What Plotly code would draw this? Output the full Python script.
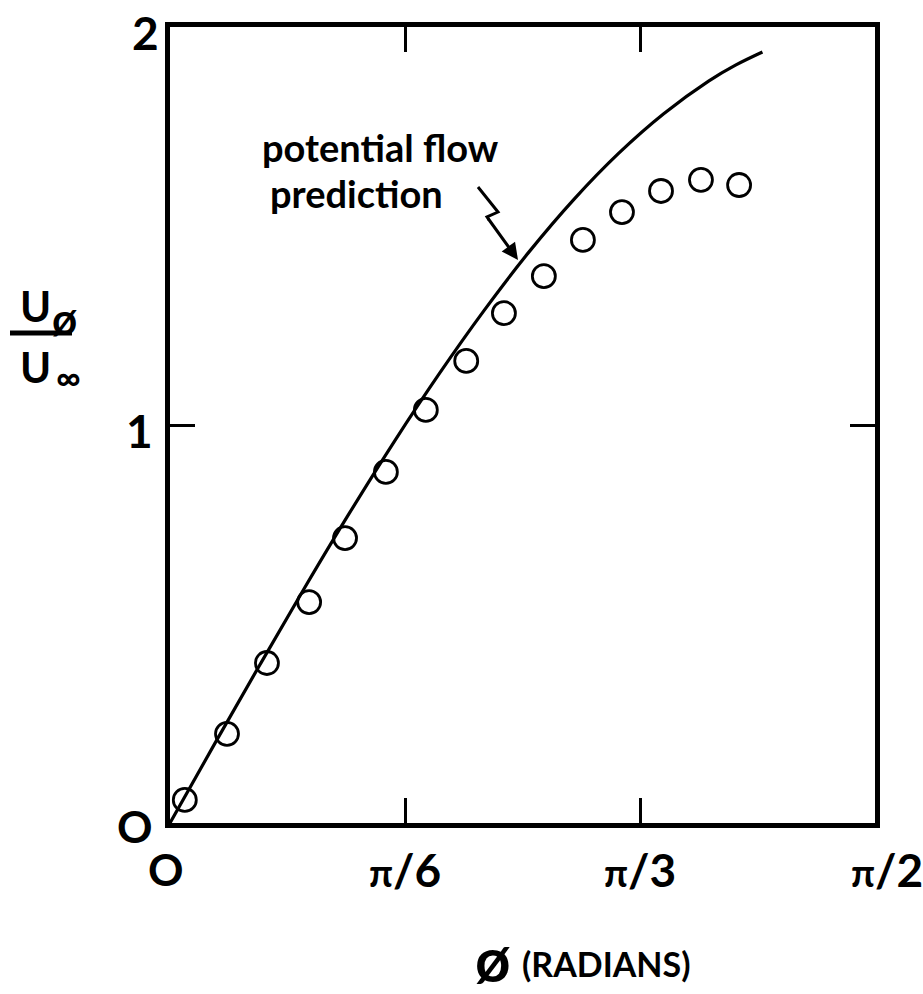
import math
import plotly.graph_objects as go

# ---- data ----
phi_measured = [0.033, 0.127, 0.216, 0.310, 0.390, 0.481, 0.570, 0.660, 0.744,
                0.833, 0.920, 1.007, 1.094, 1.183, 1.268]
u_measured = [0.058, 0.224, 0.402, 0.555, 0.716, 0.882, 1.038, 1.161, 1.281,
              1.374, 1.465, 1.535, 1.588, 1.616, 1.603]

phi_potential = [0.0, 0.1, 0.2, 0.3, 0.4, 0.5, 0.6, 0.7, 0.8, 0.9, 1.0, 1.1, 1.2, 1.26, 1.32]
u_potential = [0.0, 0.200, 0.397, 0.591, 0.779, 0.959, 1.129, 1.288, 1.435, 1.567,
               1.683, 1.782, 1.864, 1.904, 1.937]

x_tickvals = [0, math.pi / 6, math.pi / 3, math.pi / 2]
x_ticklabels = ["O", "π/6", "π/3", "π/2"]
y_tickvals = [0, 1, 2]
y_ticklabels = ["O", "1", "2"]

# ---- layout geometry (pixels) ----
W, H = 923, 994
L, R, T, B = 170, 875, 27, 823
XMAX, YMAX = math.pi / 2, 2.0


def px2p(px):
    return (px - L) / (R - L)


def py2p(py):
    return (B - py) / (B - T)


FONT = "Lato"
BLACK = "#000000"


def f(size):
    return dict(family=FONT, size=size, color=BLACK, weight="bold")


fig = go.Figure()
fig.add_trace(go.Scatter(x=phi_potential, y=u_potential, mode="lines",
                         line=dict(color=BLACK, width=3.2, shape="spline"),
                         hoverinfo="skip", showlegend=False))
fig.add_trace(go.Scatter(x=phi_measured, y=u_measured, mode="markers",
                         marker=dict(symbol="circle-open", size=23, color=BLACK,
                                     line=dict(color=BLACK, width=2.8)),
                         showlegend=False))

ann = []
# x tick labels
x_label_px = [166, 405, 640, 887]
for lab, xp in zip(x_ticklabels, x_label_px):
    if lab == "O":
        ann.append(dict(x=px2p(xp), y=py2p(869), text="O", font=f(44)))
    else:
        num, den = lab.split("/")
        ann.append(dict(x=px2p(xp), y=py2p(869),
                        text=f"<span style='font-size:38px'>{num}</span>"
                             f"<span style='font-size:46px'>/{den}</span>",
                        font=f(46)))
# y tick labels
y_label_px = [(135, 826), (139, 430), (145, 32)]
for lab, (xp, yp) in zip(y_ticklabels, y_label_px):
    ann.append(dict(x=px2p(xp), y=py2p(yp), text=lab, font=f(44 if lab == "O" else 46)))

# y axis title  U_ø / U_∞
ann += [
    dict(x=px2p(35), y=py2p(306), text="U", font=f(42)),
    dict(x=px2p(64), y=py2p(318), text="ø", font=f(44)),
    dict(x=px2p(35), y=py2p(367), text="U", font=f(42)),
    dict(x=px2p(68), y=py2p(377), text="∞", font=f(34)),
]
# x axis title
ann += [
    dict(x=px2p(493), y=py2p(958), text="ø", font=f(62)),
    dict(x=px2p(606), y=py2p(963), text="(RADIANS)", font=f(34)),
]
# annotation text
ann += [
    dict(x=px2p(260), y=py2p(147), text="potential flow", xanchor="left", font=f(38)),
    dict(x=px2p(268), y=py2p(193), text="prediction", xanchor="left", font=f(38)),
    dict(x=px2p(518), y=py2p(260), ax=487 - 518, ay=217 - 260, text="",
         showarrow=True, arrowhead=2, arrowsize=1.1, arrowwidth=3,
         arrowcolor=BLACK),
]
for a in ann:
    a.setdefault("showarrow", False)
    a.setdefault("xref", "paper")
    a.setdefault("yref", "paper")
    a.setdefault("xanchor", "center")
    a.setdefault("yanchor", "middle")

shapes = [
    # fraction bar of the y title
    dict(type="line", xref="paper", yref="paper", x0=px2p(10), x1=px2p(72),
         y0=py2p(333), y1=py2p(333), line=dict(color=BLACK, width=5)),
    # squiggle of the pointer
    dict(type="path", xref="paper", yref="paper",
         path=f"M {px2p(478)} {py2p(187)} L {px2p(498)} {py2p(212)} "
              f"L {px2p(487)} {py2p(217)} L {px2p(489)} {py2p(220)}",
         line=dict(color=BLACK, width=3)),
]

fig.update_layout(
    width=W, height=H,
    margin=dict(l=L, r=W - R, t=T, b=H - B, pad=0),
    paper_bgcolor="white", plot_bgcolor="white",
    showlegend=False,
    annotations=ann, shapes=shapes,
    xaxis=dict(range=[0, XMAX], tickvals=x_tickvals, showticklabels=False,
               ticks="inside", ticklen=25, tickwidth=3, tickcolor=BLACK,
               showline=True, linewidth=5, linecolor=BLACK, mirror="ticks",
               showgrid=False, zeroline=False),
    yaxis=dict(range=[0, YMAX], tickvals=y_tickvals, showticklabels=False,
               ticks="inside", ticklen=25, tickwidth=3, tickcolor=BLACK,
               showline=True, linewidth=5, linecolor=BLACK, mirror="ticks",
               showgrid=False, zeroline=False),
)

fig.write_html("out.html")
